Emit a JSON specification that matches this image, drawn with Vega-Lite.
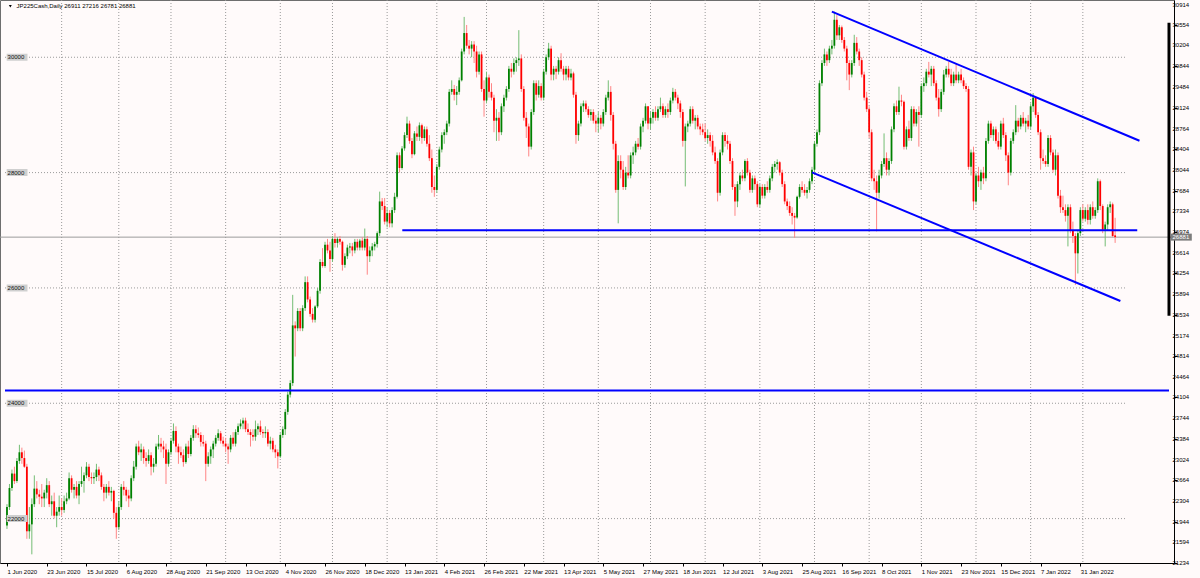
{
"$schema": "https://vega.github.io/schema/vega-lite/v6.json",
"width": 1174, "height": 563,
"autosize": {"type": "none"},
"padding": {"left": 0, "top": 0, "right": 26, "bottom": 15},
"background": "#fffafa",
"config": {
  "view": {"stroke": "#6e6e6e", "strokeWidth": 1},
  "axis": {"labelFont": "Liberation Sans", "labelFontSize": 6, "labelColor": "#000000", "domainColor": "#000000", "tickColor": "#000000", "grid": false},
  "text": {"font": "Liberation Sans"}
},
"layer": [
{
  "data": {"values": [{"n":23},{"n":46},{"n":67},{"n":89},{"n":111},{"n":132},{"n":154},{"n":174},{"n":194},{"n":217},{"n":239},{"n":260},{"n":282},{"n":304},{"n":326},{"n":348},{"n":369},{"n":391},{"n":413},{"n":434}]},
  "mark": {"type": "rule", "color": "#9a9a9a", "strokeDash": [1, 2], "strokeWidth": 1},
  "encoding": {"x": {"field": "n", "type": "quantitative", "title": null, "scale": {"domain": [0.202, 468.68], "nice": false, "zero": false}}}
},
{
  "data": {"values": [{"p":30000},{"p":28000},{"p":26000},{"p":24000},{"p":22000}]},
  "mark": {"type": "rule", "color": "#9a9a9a", "strokeDash": [1, 2], "strokeWidth": 1},
  "encoding": {
    "y": {"field": "p", "type": "quantitative", "title": null, "scale": {"domain": [21230, 30993], "nice": false, "zero": false}},
    "x": {"datum": 0.202}, "x2": {"datum": 451.5}
  }
},
{
  "data": {"values": [{"p": 26881}]},
  "mark": {"type": "rule", "color": "#9b9b9b", "strokeWidth": 1},
  "encoding": {"y": {"field": "p", "type": "quantitative", "title": null}}
},
{
  "data": {"values": [
{"d":"2020-06-01","o":21880,"h":22250,"l":21820,"c":22200},
{"d":"2020-06-02","o":22200,"h":22600,"l":22150,"c":22530},
{"d":"2020-06-03","o":22530,"h":22850,"l":22480,"c":22780},
{"d":"2020-06-04","o":22780,"h":22900,"l":22600,"c":22650},
{"d":"2020-06-05","o":22650,"h":23050,"l":22620,"c":23000},
{"d":"2020-06-08","o":23000,"h":23280,"l":22950,"c":23150},
{"d":"2020-06-09","o":23150,"h":23230,"l":22950,"c":23050},
{"d":"2020-06-10","o":23050,"h":23180,"l":22880,"c":22900},
{"d":"2020-06-11","o":22900,"h":22950,"l":21650,"c":21780},
{"d":"2020-06-12","o":21780,"h":22200,"l":21650,"c":21900},
{"d":"2020-06-15","o":21900,"h":22350,"l":21380,"c":22250},
{"d":"2020-06-16","o":22250,"h":22750,"l":22200,"c":22520},
{"d":"2020-06-17","o":22520,"h":22650,"l":22350,"c":22420},
{"d":"2020-06-18","o":22420,"h":22500,"l":22250,"c":22380},
{"d":"2020-06-19","o":22380,"h":22600,"l":22200,"c":22350},
{"d":"2020-06-22","o":22350,"h":22500,"l":22200,"c":22450},
{"d":"2020-06-23","o":22450,"h":22700,"l":22350,"c":22580},
{"d":"2020-06-24","o":22580,"h":22650,"l":22200,"c":22250},
{"d":"2020-06-25","o":22250,"h":22400,"l":22050,"c":22300},
{"d":"2020-06-26","o":22300,"h":22450,"l":22000,"c":22050},
{"d":"2020-06-29","o":22050,"h":22200,"l":21850,"c":22120},
{"d":"2020-06-30","o":22120,"h":22400,"l":22050,"c":22200},
{"d":"2020-07-01","o":22200,"h":22350,"l":22050,"c":22150},
{"d":"2020-07-02","o":22150,"h":22400,"l":22100,"c":22300},
{"d":"2020-07-03","o":22300,"h":22450,"l":22250,"c":22350},
{"d":"2020-07-06","o":22350,"h":22800,"l":22320,"c":22700},
{"d":"2020-07-07","o":22700,"h":22750,"l":22450,"c":22500},
{"d":"2020-07-08","o":22500,"h":22600,"l":22350,"c":22550},
{"d":"2020-07-09","o":22550,"h":22650,"l":22350,"c":22400},
{"d":"2020-07-10","o":22400,"h":22650,"l":22250,"c":22600},
{"d":"2020-07-13","o":22600,"h":22900,"l":22550,"c":22650},
{"d":"2020-07-14","o":22650,"h":22800,"l":22450,"c":22750},
{"d":"2020-07-15","o":22750,"h":22980,"l":22700,"c":22900},
{"d":"2020-07-16","o":22900,"h":22950,"l":22650,"c":22720},
{"d":"2020-07-17","o":22720,"h":22800,"l":22600,"c":22700},
{"d":"2020-07-20","o":22700,"h":22800,"l":22600,"c":22720},
{"d":"2020-07-21","o":22720,"h":22950,"l":22650,"c":22850},
{"d":"2020-07-22","o":22850,"h":22900,"l":22650,"c":22750},
{"d":"2020-07-23","o":22750,"h":22800,"l":22500,"c":22550},
{"d":"2020-07-24","o":22550,"h":22600,"l":22300,"c":22450},
{"d":"2020-07-27","o":22450,"h":22600,"l":22350,"c":22550},
{"d":"2020-07-28","o":22550,"h":22650,"l":22400,"c":22450},
{"d":"2020-07-29","o":22450,"h":22550,"l":22300,"c":22480},
{"d":"2020-07-30","o":22480,"h":22500,"l":22000,"c":22100},
{"d":"2020-07-31","o":22100,"h":22200,"l":21650,"c":21850},
{"d":"2020-08-03","o":21850,"h":22300,"l":21800,"c":22200},
{"d":"2020-08-04","o":22200,"h":22600,"l":22150,"c":22550},
{"d":"2020-08-05","o":22550,"h":22650,"l":22400,"c":22500},
{"d":"2020-08-06","o":22500,"h":22550,"l":22300,"c":22400},
{"d":"2020-08-07","o":22400,"h":22500,"l":22200,"c":22350},
{"d":"2020-08-10","o":22350,"h":22750,"l":22300,"c":22700},
{"d":"2020-08-11","o":22700,"h":23000,"l":22650,"c":22900},
{"d":"2020-08-12","o":22900,"h":23300,"l":22850,"c":23250},
{"d":"2020-08-13","o":23250,"h":23350,"l":23100,"c":23150},
{"d":"2020-08-14","o":23150,"h":23300,"l":23000,"c":23200},
{"d":"2020-08-17","o":23200,"h":23250,"l":22950,"c":23050},
{"d":"2020-08-18","o":23050,"h":23150,"l":22900,"c":23000},
{"d":"2020-08-19","o":23000,"h":23200,"l":22950,"c":23100},
{"d":"2020-08-20","o":23100,"h":23150,"l":22750,"c":22900},
{"d":"2020-08-21","o":22900,"h":23050,"l":22800,"c":22950},
{"d":"2020-08-24","o":22950,"h":23300,"l":22900,"c":23250},
{"d":"2020-08-25","o":23250,"h":23450,"l":23200,"c":23300},
{"d":"2020-08-26","o":23300,"h":23400,"l":23150,"c":23250},
{"d":"2020-08-27","o":23250,"h":23350,"l":23050,"c":23200},
{"d":"2020-08-28","o":23200,"h":23300,"l":22600,"c":22950},
{"d":"2020-08-31","o":22950,"h":23200,"l":22900,"c":23150},
{"d":"2020-09-01","o":23150,"h":23400,"l":23100,"c":23350},
{"d":"2020-09-02","o":23350,"h":23650,"l":23300,"c":23520},
{"d":"2020-09-03","o":23520,"h":23600,"l":23150,"c":23250},
{"d":"2020-09-04","o":23250,"h":23300,"l":22950,"c":23150},
{"d":"2020-09-07","o":23150,"h":23250,"l":23050,"c":23100},
{"d":"2020-09-08","o":23100,"h":23200,"l":22900,"c":22980},
{"d":"2020-09-09","o":22980,"h":23300,"l":22950,"c":23250},
{"d":"2020-09-10","o":23250,"h":23350,"l":23050,"c":23120},
{"d":"2020-09-11","o":23120,"h":23450,"l":23080,"c":23400},
{"d":"2020-09-14","o":23400,"h":23620,"l":23350,"c":23550},
{"d":"2020-09-15","o":23550,"h":23620,"l":23400,"c":23480},
{"d":"2020-09-16","o":23480,"h":23580,"l":23400,"c":23450},
{"d":"2020-09-17","o":23450,"h":23500,"l":23250,"c":23330},
{"d":"2020-09-18","o":23330,"h":23450,"l":23250,"c":23300},
{"d":"2020-09-21","o":23300,"h":23350,"l":22650,"c":22950},
{"d":"2020-09-22","o":22950,"h":23150,"l":22900,"c":23080},
{"d":"2020-09-23","o":23080,"h":23250,"l":22950,"c":23200},
{"d":"2020-09-24","o":23200,"h":23350,"l":23050,"c":23300},
{"d":"2020-09-25","o":23300,"h":23450,"l":23250,"c":23400},
{"d":"2020-09-28","o":23400,"h":23550,"l":23350,"c":23480},
{"d":"2020-09-29","o":23480,"h":23520,"l":23300,"c":23350},
{"d":"2020-09-30","o":23350,"h":23420,"l":23250,"c":23300},
{"d":"2020-10-01","o":23300,"h":23400,"l":23150,"c":23250},
{"d":"2020-10-02","o":23250,"h":23300,"l":22950,"c":23200},
{"d":"2020-10-05","o":23200,"h":23450,"l":23150,"c":23400},
{"d":"2020-10-06","o":23400,"h":23500,"l":23250,"c":23300},
{"d":"2020-10-07","o":23300,"h":23550,"l":23250,"c":23500},
{"d":"2020-10-08","o":23500,"h":23650,"l":23450,"c":23600},
{"d":"2020-10-09","o":23600,"h":23720,"l":23550,"c":23650},
{"d":"2020-10-12","o":23650,"h":23750,"l":23550,"c":23700},
{"d":"2020-10-13","o":23700,"h":23750,"l":23500,"c":23550},
{"d":"2020-10-14","o":23550,"h":23650,"l":23450,"c":23500},
{"d":"2020-10-15","o":23500,"h":23550,"l":23250,"c":23450},
{"d":"2020-10-16","o":23450,"h":23550,"l":23350,"c":23420},
{"d":"2020-10-19","o":23420,"h":23700,"l":23350,"c":23550},
{"d":"2020-10-20","o":23550,"h":23650,"l":23450,"c":23600},
{"d":"2020-10-21","o":23600,"h":23700,"l":23450,"c":23500},
{"d":"2020-10-22","o":23500,"h":23550,"l":23400,"c":23480},
{"d":"2020-10-23","o":23480,"h":23600,"l":23400,"c":23500},
{"d":"2020-10-26","o":23500,"h":23550,"l":23250,"c":23300},
{"d":"2020-10-27","o":23300,"h":23420,"l":23200,"c":23350},
{"d":"2020-10-28","o":23350,"h":23400,"l":23150,"c":23200},
{"d":"2020-10-29","o":23200,"h":23280,"l":23050,"c":23150},
{"d":"2020-10-30","o":23150,"h":23200,"l":22870,"c":23080},
{"d":"2020-11-02","o":23080,"h":23480,"l":23050,"c":23450},
{"d":"2020-11-03","o":23450,"h":23600,"l":23400,"c":23550},
{"d":"2020-11-04","o":23550,"h":23900,"l":23450,"c":23850},
{"d":"2020-11-05","o":23850,"h":24200,"l":23800,"c":24150},
{"d":"2020-11-06","o":24150,"h":24400,"l":24100,"c":24350},
{"d":"2020-11-09","o":24350,"h":25880,"l":24300,"c":25350},
{"d":"2020-11-10","o":25350,"h":25420,"l":24810,"c":25300},
{"d":"2020-11-11","o":25300,"h":25650,"l":25250,"c":25600},
{"d":"2020-11-12","o":25600,"h":25650,"l":25250,"c":25300},
{"d":"2020-11-13","o":25300,"h":25700,"l":25250,"c":25650},
{"d":"2020-11-16","o":25650,"h":26200,"l":25600,"c":26100},
{"d":"2020-11-17","o":26100,"h":26200,"l":25750,"c":25800},
{"d":"2020-11-18","o":25800,"h":25850,"l":25500,"c":25550},
{"d":"2020-11-19","o":25550,"h":25650,"l":25400,"c":25450},
{"d":"2020-11-20","o":25450,"h":25700,"l":25400,"c":25680},
{"d":"2020-11-23","o":25680,"h":26000,"l":25650,"c":25950},
{"d":"2020-11-24","o":25950,"h":26500,"l":25900,"c":26450},
{"d":"2020-11-25","o":26450,"h":26690,"l":26350,"c":26380},
{"d":"2020-11-26","o":26380,"h":26800,"l":26350,"c":26750},
{"d":"2020-11-27","o":26750,"h":26850,"l":26600,"c":26650},
{"d":"2020-11-30","o":26650,"h":26800,"l":26280,"c":26500},
{"d":"2020-12-01","o":26500,"h":26900,"l":26450,"c":26850},
{"d":"2020-12-02","o":26850,"h":26950,"l":26700,"c":26780},
{"d":"2020-12-03","o":26780,"h":26880,"l":26700,"c":26850},
{"d":"2020-12-04","o":26850,"h":26900,"l":26750,"c":26800},
{"d":"2020-12-07","o":26800,"h":26820,"l":26300,"c":26400},
{"d":"2020-12-08","o":26400,"h":26600,"l":26350,"c":26550},
{"d":"2020-12-09","o":26550,"h":26750,"l":26500,"c":26700},
{"d":"2020-12-10","o":26700,"h":26780,"l":26600,"c":26720},
{"d":"2020-12-11","o":26720,"h":26780,"l":26550,"c":26650},
{"d":"2020-12-14","o":26650,"h":26850,"l":26600,"c":26800},
{"d":"2020-12-15","o":26800,"h":26850,"l":26650,"c":26700},
{"d":"2020-12-16","o":26700,"h":26850,"l":26650,"c":26820},
{"d":"2020-12-17","o":26820,"h":26880,"l":26650,"c":26700},
{"d":"2020-12-18","o":26700,"h":27030,"l":26650,"c":26850},
{"d":"2020-12-21","o":26850,"h":26900,"l":26230,"c":26550},
{"d":"2020-12-22","o":26550,"h":26720,"l":26450,"c":26650},
{"d":"2020-12-23","o":26650,"h":26780,"l":26550,"c":26720},
{"d":"2020-12-24","o":26720,"h":26800,"l":26650,"c":26760},
{"d":"2020-12-28","o":26760,"h":26980,"l":26700,"c":26950},
{"d":"2020-12-29","o":26950,"h":27670,"l":26900,"c":27500},
{"d":"2020-12-30","o":27500,"h":27560,"l":27350,"c":27420},
{"d":"2020-12-31","o":27420,"h":27560,"l":27100,"c":27150},
{"d":"2021-01-04","o":27150,"h":27400,"l":27050,"c":27300},
{"d":"2021-01-05","o":27300,"h":27350,"l":27050,"c":27120},
{"d":"2021-01-06","o":27120,"h":27400,"l":27050,"c":27350},
{"d":"2021-01-07","o":27350,"h":27650,"l":27300,"c":27580},
{"d":"2021-01-08","o":27580,"h":28350,"l":27550,"c":28300},
{"d":"2021-01-11","o":28300,"h":28350,"l":28000,"c":28080},
{"d":"2021-01-12","o":28080,"h":28460,"l":28050,"c":28420},
{"d":"2021-01-13","o":28420,"h":28700,"l":28380,"c":28650},
{"d":"2021-01-14","o":28650,"h":28970,"l":28600,"c":28850},
{"d":"2021-01-15","o":28850,"h":28900,"l":28500,"c":28550},
{"d":"2021-01-18","o":28550,"h":28600,"l":28250,"c":28320},
{"d":"2021-01-19","o":28320,"h":28720,"l":28300,"c":28680},
{"d":"2021-01-20","o":28680,"h":28800,"l":28550,"c":28620},
{"d":"2021-01-21","o":28620,"h":28870,"l":28550,"c":28820},
{"d":"2021-01-22","o":28820,"h":28850,"l":28500,"c":28600},
{"d":"2021-01-25","o":28600,"h":28800,"l":28550,"c":28750},
{"d":"2021-01-26","o":28750,"h":28800,"l":28450,"c":28500},
{"d":"2021-01-27","o":28500,"h":28650,"l":28200,"c":28250},
{"d":"2021-01-28","o":28250,"h":28400,"l":27650,"c":27750},
{"d":"2021-01-29","o":27750,"h":27950,"l":27580,"c":27700},
{"d":"2021-02-01","o":27700,"h":28150,"l":27650,"c":28100},
{"d":"2021-02-02","o":28100,"h":28450,"l":28050,"c":28400},
{"d":"2021-02-03","o":28400,"h":28700,"l":28350,"c":28650},
{"d":"2021-02-04","o":28650,"h":28750,"l":28500,"c":28700},
{"d":"2021-02-05","o":28700,"h":28900,"l":28650,"c":28850},
{"d":"2021-02-08","o":28850,"h":29450,"l":28800,"c":29400},
{"d":"2021-02-09","o":29400,"h":29600,"l":29350,"c":29450},
{"d":"2021-02-10","o":29450,"h":29520,"l":29250,"c":29350},
{"d":"2021-02-11","o":29350,"h":29500,"l":29170,"c":29400},
{"d":"2021-02-12","o":29400,"h":29650,"l":29350,"c":29600},
{"d":"2021-02-15","o":29600,"h":30150,"l":29580,"c":30100},
{"d":"2021-02-16","o":30100,"h":30700,"l":30050,"c":30420},
{"d":"2021-02-17","o":30420,"h":30560,"l":30150,"c":30200},
{"d":"2021-02-18","o":30200,"h":30300,"l":30050,"c":30150},
{"d":"2021-02-19","o":30150,"h":30280,"l":30000,"c":30220},
{"d":"2021-02-22","o":30220,"h":30280,"l":29900,"c":30100},
{"d":"2021-02-23","o":30100,"h":30200,"l":29650,"c":29750},
{"d":"2021-02-24","o":29750,"h":30100,"l":29700,"c":30050},
{"d":"2021-02-25","o":30050,"h":30100,"l":29400,"c":29450},
{"d":"2021-02-26","o":29450,"h":29600,"l":28970,"c":29250},
{"d":"2021-03-01","o":29250,"h":29750,"l":29200,"c":29650},
{"d":"2021-03-02","o":29650,"h":29700,"l":29300,"c":29400},
{"d":"2021-03-03","o":29400,"h":29550,"l":29250,"c":29300},
{"d":"2021-03-04","o":29300,"h":29350,"l":28700,"c":28900},
{"d":"2021-03-05","o":28900,"h":29100,"l":28550,"c":28950},
{"d":"2021-03-08","o":28950,"h":29050,"l":28550,"c":28700},
{"d":"2021-03-09","o":28700,"h":29200,"l":28650,"c":29150},
{"d":"2021-03-10","o":29150,"h":29350,"l":29050,"c":29300},
{"d":"2021-03-11","o":29300,"h":29500,"l":29250,"c":29450},
{"d":"2021-03-12","o":29450,"h":29850,"l":29400,"c":29800},
{"d":"2021-03-15","o":29800,"h":29900,"l":29650,"c":29750},
{"d":"2021-03-16","o":29750,"h":29980,"l":29700,"c":29900},
{"d":"2021-03-17","o":29900,"h":30000,"l":29750,"c":29950},
{"d":"2021-03-18","o":29950,"h":30470,"l":29850,"c":29980},
{"d":"2021-03-19","o":29980,"h":30050,"l":29400,"c":29450},
{"d":"2021-03-22","o":29450,"h":29500,"l":28900,"c":28950},
{"d":"2021-03-23","o":28950,"h":29050,"l":28600,"c":28800},
{"d":"2021-03-24","o":28800,"h":28850,"l":28280,"c":28450},
{"d":"2021-03-25","o":28450,"h":29100,"l":28400,"c":29050},
{"d":"2021-03-26","o":29050,"h":29600,"l":29000,"c":29550},
{"d":"2021-03-29","o":29550,"h":29600,"l":29250,"c":29350},
{"d":"2021-03-30","o":29350,"h":29600,"l":29300,"c":29500},
{"d":"2021-03-31","o":29500,"h":29550,"l":29250,"c":29300},
{"d":"2021-04-01","o":29300,"h":29800,"l":29250,"c":29750},
{"d":"2021-04-02","o":29750,"h":30050,"l":29700,"c":30000},
{"d":"2021-04-05","o":30000,"h":30250,"l":29950,"c":30150},
{"d":"2021-04-06","o":30150,"h":30200,"l":29600,"c":29700},
{"d":"2021-04-07","o":29700,"h":29850,"l":29600,"c":29800},
{"d":"2021-04-08","o":29800,"h":29850,"l":29620,"c":29750},
{"d":"2021-04-09","o":29750,"h":30000,"l":29700,"c":29950},
{"d":"2021-04-12","o":29950,"h":30070,"l":29750,"c":29800},
{"d":"2021-04-13","o":29800,"h":29850,"l":29600,"c":29700},
{"d":"2021-04-14","o":29700,"h":29850,"l":29600,"c":29800},
{"d":"2021-04-15","o":29800,"h":29850,"l":29600,"c":29650},
{"d":"2021-04-16","o":29650,"h":29800,"l":29600,"c":29720},
{"d":"2021-04-19","o":29720,"h":29750,"l":29300,"c":29350},
{"d":"2021-04-20","o":29350,"h":29400,"l":28500,"c":28650},
{"d":"2021-04-21","o":28650,"h":28900,"l":28550,"c":28850},
{"d":"2021-04-22","o":28850,"h":29200,"l":28800,"c":29150},
{"d":"2021-04-23","o":29150,"h":29250,"l":29050,"c":29200},
{"d":"2021-04-26","o":29200,"h":29250,"l":29050,"c":29100},
{"d":"2021-04-27","o":29100,"h":29150,"l":28950,"c":29000},
{"d":"2021-04-28","o":29000,"h":29100,"l":28900,"c":29050},
{"d":"2021-04-29","o":29050,"h":29100,"l":28850,"c":28900},
{"d":"2021-04-30","o":28900,"h":29000,"l":28700,"c":28850},
{"d":"2021-05-03","o":28850,"h":29050,"l":28700,"c":28950},
{"d":"2021-05-04","o":28950,"h":29000,"l":28750,"c":28850},
{"d":"2021-05-05","o":28850,"h":29100,"l":28800,"c":29050},
{"d":"2021-05-06","o":29050,"h":29350,"l":29000,"c":29300},
{"d":"2021-05-07","o":29300,"h":29600,"l":29250,"c":29400},
{"d":"2021-05-10","o":29400,"h":29500,"l":28900,"c":29000},
{"d":"2021-05-11","o":29000,"h":29050,"l":28400,"c":28500},
{"d":"2021-05-12","o":28500,"h":28550,"l":27650,"c":27700},
{"d":"2021-05-13","o":27700,"h":28300,"l":27120,"c":28200},
{"d":"2021-05-14","o":28200,"h":28300,"l":27900,"c":28050},
{"d":"2021-05-17","o":28050,"h":28200,"l":27700,"c":27750},
{"d":"2021-05-18","o":27750,"h":28100,"l":27700,"c":28000},
{"d":"2021-05-19","o":28000,"h":28300,"l":27900,"c":27950},
{"d":"2021-05-20","o":27950,"h":28350,"l":27900,"c":28300},
{"d":"2021-05-21","o":28300,"h":28450,"l":28150,"c":28350},
{"d":"2021-05-24","o":28350,"h":28550,"l":28300,"c":28500},
{"d":"2021-05-25","o":28500,"h":28600,"l":28400,"c":28450},
{"d":"2021-05-26","o":28450,"h":28850,"l":28400,"c":28800},
{"d":"2021-05-27","o":28800,"h":28950,"l":28700,"c":28900},
{"d":"2021-05-28","o":28900,"h":29200,"l":28850,"c":29150},
{"d":"2021-05-31","o":29150,"h":29150,"l":28750,"c":28850},
{"d":"2021-06-01","o":28850,"h":29050,"l":28750,"c":28950},
{"d":"2021-06-02","o":28950,"h":29100,"l":28850,"c":29050},
{"d":"2021-06-03","o":29050,"h":29150,"l":28900,"c":28950},
{"d":"2021-06-04","o":28950,"h":29150,"l":28900,"c":29100},
{"d":"2021-06-07","o":29100,"h":29300,"l":29050,"c":29150},
{"d":"2021-06-08","o":29150,"h":29200,"l":28950,"c":29000},
{"d":"2021-06-09","o":29000,"h":29150,"l":28950,"c":29100},
{"d":"2021-06-10","o":29100,"h":29200,"l":28950,"c":29050},
{"d":"2021-06-11","o":29050,"h":29300,"l":29000,"c":29250},
{"d":"2021-06-14","o":29250,"h":29470,"l":29200,"c":29400},
{"d":"2021-06-15","o":29400,"h":29450,"l":29250,"c":29300},
{"d":"2021-06-16","o":29300,"h":29350,"l":29100,"c":29200},
{"d":"2021-06-17","o":29200,"h":29250,"l":28950,"c":29050},
{"d":"2021-06-18","o":29050,"h":29100,"l":28450,"c":28550},
{"d":"2021-06-21","o":28550,"h":28850,"l":27760,"c":28800},
{"d":"2021-06-22","o":28800,"h":28900,"l":28700,"c":28850},
{"d":"2021-06-23","o":28850,"h":29150,"l":28800,"c":29100},
{"d":"2021-06-24","o":29100,"h":29150,"l":28850,"c":28900},
{"d":"2021-06-25","o":28900,"h":29000,"l":28750,"c":28950},
{"d":"2021-06-28","o":28950,"h":29000,"l":28750,"c":28800},
{"d":"2021-06-29","o":28800,"h":28850,"l":28650,"c":28750},
{"d":"2021-06-30","o":28750,"h":28850,"l":28650,"c":28700},
{"d":"2021-07-01","o":28700,"h":28850,"l":28550,"c":28600},
{"d":"2021-07-02","o":28600,"h":28750,"l":28500,"c":28650},
{"d":"2021-07-05","o":28650,"h":28700,"l":28450,"c":28550},
{"d":"2021-07-06","o":28550,"h":28650,"l":28300,"c":28350},
{"d":"2021-07-07","o":28350,"h":28450,"l":28150,"c":28200},
{"d":"2021-07-08","o":28200,"h":28250,"l":27500,"c":27650},
{"d":"2021-07-09","o":27650,"h":28400,"l":27600,"c":28350},
{"d":"2021-07-12","o":28350,"h":28700,"l":28300,"c":28650},
{"d":"2021-07-13","o":28650,"h":28700,"l":28450,"c":28550},
{"d":"2021-07-14","o":28550,"h":28650,"l":28400,"c":28500},
{"d":"2021-07-15","o":28500,"h":28550,"l":28150,"c":28200},
{"d":"2021-07-16","o":28200,"h":28250,"l":27700,"c":27750},
{"d":"2021-07-19","o":27750,"h":27800,"l":27250,"c":27500},
{"d":"2021-07-20","o":27500,"h":27850,"l":27400,"c":27800},
{"d":"2021-07-21","o":27800,"h":28000,"l":27700,"c":27950},
{"d":"2021-07-22","o":27950,"h":28050,"l":27850,"c":27900},
{"d":"2021-07-23","o":27900,"h":28230,"l":27850,"c":28200},
{"d":"2021-07-26","o":28200,"h":28250,"l":27950,"c":28000},
{"d":"2021-07-27","o":28000,"h":28050,"l":27650,"c":27700},
{"d":"2021-07-28","o":27700,"h":27950,"l":27650,"c":27900},
{"d":"2021-07-29","o":27900,"h":27950,"l":27700,"c":27800},
{"d":"2021-07-30","o":27800,"h":27850,"l":27400,"c":27450},
{"d":"2021-08-02","o":27450,"h":27800,"l":27400,"c":27750},
{"d":"2021-08-03","o":27750,"h":27800,"l":27550,"c":27600},
{"d":"2021-08-04","o":27600,"h":27800,"l":27550,"c":27750},
{"d":"2021-08-05","o":27750,"h":27850,"l":27650,"c":27700},
{"d":"2021-08-06","o":27700,"h":27950,"l":27650,"c":27900},
{"d":"2021-08-09","o":27900,"h":28150,"l":27850,"c":28100},
{"d":"2021-08-10","o":28100,"h":28200,"l":28000,"c":28150},
{"d":"2021-08-11","o":28150,"h":28230,"l":28050,"c":28180},
{"d":"2021-08-12","o":28180,"h":28200,"l":27950,"c":28000},
{"d":"2021-08-13","o":28000,"h":28050,"l":27750,"c":27800},
{"d":"2021-08-16","o":27800,"h":27850,"l":27450,"c":27500},
{"d":"2021-08-17","o":27500,"h":27550,"l":27350,"c":27420},
{"d":"2021-08-18","o":27420,"h":27500,"l":27250,"c":27300},
{"d":"2021-08-19","o":27300,"h":27400,"l":27100,"c":27250},
{"d":"2021-08-20","o":27250,"h":27300,"l":26870,"c":27220},
{"d":"2021-08-23","o":27220,"h":27600,"l":27200,"c":27580},
{"d":"2021-08-24","o":27580,"h":27800,"l":27550,"c":27750},
{"d":"2021-08-25","o":27750,"h":27850,"l":27650,"c":27700},
{"d":"2021-08-26","o":27700,"h":27800,"l":27600,"c":27650},
{"d":"2021-08-27","o":27650,"h":27750,"l":27550,"c":27700},
{"d":"2021-08-30","o":27700,"h":27900,"l":27650,"c":27850},
{"d":"2021-08-31","o":27850,"h":28100,"l":27800,"c":28050},
{"d":"2021-09-01","o":28050,"h":28550,"l":28000,"c":28500},
{"d":"2021-09-02","o":28500,"h":28750,"l":28450,"c":28700},
{"d":"2021-09-03","o":28700,"h":29600,"l":28650,"c":29550},
{"d":"2021-09-06","o":29550,"h":29950,"l":29500,"c":29900},
{"d":"2021-09-07","o":29900,"h":30150,"l":29850,"c":30050},
{"d":"2021-09-08","o":30050,"h":30100,"l":29850,"c":29950},
{"d":"2021-09-09","o":29950,"h":30200,"l":29900,"c":30150},
{"d":"2021-09-10","o":30150,"h":30300,"l":30050,"c":30200},
{"d":"2021-09-13","o":30200,"h":30790,"l":30150,"c":30650},
{"d":"2021-09-14","o":30650,"h":30730,"l":30300,"c":30380},
{"d":"2021-09-15","o":30380,"h":30560,"l":30300,"c":30520},
{"d":"2021-09-16","o":30520,"h":30550,"l":30250,"c":30300},
{"d":"2021-09-17","o":30300,"h":30350,"l":30100,"c":30150},
{"d":"2021-09-20","o":30150,"h":30200,"l":29600,"c":29900},
{"d":"2021-09-21","o":29900,"h":29950,"l":29430,"c":29700},
{"d":"2021-09-22","o":29700,"h":29950,"l":29650,"c":29900},
{"d":"2021-09-23","o":29900,"h":30390,"l":29850,"c":30250},
{"d":"2021-09-24","o":30250,"h":30350,"l":30050,"c":30100},
{"d":"2021-09-27","o":30100,"h":30150,"l":29850,"c":29950},
{"d":"2021-09-28","o":29950,"h":30000,"l":29650,"c":29700},
{"d":"2021-09-29","o":29700,"h":29750,"l":29250,"c":29300},
{"d":"2021-09-30","o":29300,"h":29400,"l":29050,"c":29100},
{"d":"2021-10-01","o":29100,"h":29150,"l":28600,"c":28700},
{"d":"2021-10-04","o":28700,"h":28750,"l":27850,"c":27900},
{"d":"2021-10-05","o":27900,"h":28050,"l":27700,"c":27850},
{"d":"2021-10-06","o":27850,"h":27950,"l":26980,"c":27650},
{"d":"2021-10-07","o":27650,"h":28050,"l":27550,"c":27950},
{"d":"2021-10-08","o":27950,"h":28200,"l":27900,"c":28150},
{"d":"2021-10-11","o":28150,"h":28680,"l":28100,"c":28250},
{"d":"2021-10-12","o":28250,"h":28350,"l":27950,"c":28050},
{"d":"2021-10-13","o":28050,"h":28250,"l":27950,"c":28200},
{"d":"2021-10-14","o":28200,"h":28800,"l":28150,"c":28750},
{"d":"2021-10-15","o":28750,"h":29200,"l":28700,"c":29150},
{"d":"2021-10-18","o":29150,"h":29250,"l":29000,"c":29050},
{"d":"2021-10-19","o":29050,"h":29490,"l":29000,"c":29250},
{"d":"2021-10-20","o":29250,"h":29350,"l":29150,"c":29230},
{"d":"2021-10-21","o":29230,"h":29250,"l":28400,"c":28450},
{"d":"2021-10-22","o":28450,"h":28800,"l":28400,"c":28750},
{"d":"2021-10-25","o":28750,"h":28900,"l":28550,"c":28600},
{"d":"2021-10-26","o":28600,"h":29150,"l":28550,"c":29100},
{"d":"2021-10-27","o":29100,"h":29150,"l":28800,"c":28850},
{"d":"2021-10-28","o":28850,"h":29100,"l":28800,"c":29050},
{"d":"2021-10-29","o":29050,"h":29150,"l":28450,"c":29000},
{"d":"2021-11-01","o":29000,"h":29550,"l":28950,"c":29500},
{"d":"2021-11-02","o":29500,"h":29650,"l":29400,"c":29550},
{"d":"2021-11-03","o":29550,"h":29800,"l":29500,"c":29750},
{"d":"2021-11-04","o":29750,"h":29920,"l":29650,"c":29700},
{"d":"2021-11-05","o":29700,"h":29850,"l":29500,"c":29800},
{"d":"2021-11-08","o":29800,"h":29850,"l":29500,"c":29550},
{"d":"2021-11-09","o":29550,"h":29600,"l":29250,"c":29300},
{"d":"2021-11-10","o":29300,"h":29450,"l":28970,"c":29100},
{"d":"2021-11-11","o":29100,"h":29450,"l":29050,"c":29400},
{"d":"2021-11-12","o":29400,"h":29780,"l":29350,"c":29700},
{"d":"2021-11-15","o":29700,"h":29850,"l":29650,"c":29800},
{"d":"2021-11-16","o":29800,"h":29920,"l":29650,"c":29700},
{"d":"2021-11-17","o":29700,"h":29800,"l":29500,"c":29550},
{"d":"2021-11-18","o":29550,"h":29750,"l":29500,"c":29700},
{"d":"2021-11-19","o":29700,"h":29890,"l":29550,"c":29600},
{"d":"2021-11-22","o":29600,"h":29750,"l":29550,"c":29700},
{"d":"2021-11-23","o":29700,"h":29800,"l":29550,"c":29600},
{"d":"2021-11-24","o":29600,"h":29650,"l":29450,"c":29500},
{"d":"2021-11-25","o":29500,"h":29550,"l":29400,"c":29450},
{"d":"2021-11-26","o":29450,"h":29500,"l":28050,"c":28100},
{"d":"2021-11-29","o":28100,"h":28400,"l":27950,"c":28350},
{"d":"2021-11-30","o":28350,"h":28450,"l":27350,"c":27500},
{"d":"2021-12-01","o":27500,"h":28000,"l":27450,"c":27950},
{"d":"2021-12-02","o":27950,"h":28100,"l":27750,"c":27850},
{"d":"2021-12-03","o":27850,"h":28050,"l":27700,"c":28000},
{"d":"2021-12-06","o":28000,"h":28100,"l":27800,"c":27900},
{"d":"2021-12-07","o":27900,"h":28600,"l":27850,"c":28550},
{"d":"2021-12-08","o":28550,"h":28900,"l":28500,"c":28850},
{"d":"2021-12-09","o":28850,"h":28900,"l":28600,"c":28650},
{"d":"2021-12-10","o":28650,"h":28800,"l":28550,"c":28750},
{"d":"2021-12-13","o":28750,"h":28800,"l":28500,"c":28550},
{"d":"2021-12-14","o":28550,"h":28700,"l":28400,"c":28450},
{"d":"2021-12-15","o":28450,"h":28900,"l":28400,"c":28850},
{"d":"2021-12-16","o":28850,"h":28950,"l":28600,"c":28650},
{"d":"2021-12-17","o":28650,"h":28700,"l":28200,"c":28300},
{"d":"2021-12-20","o":28300,"h":28350,"l":27780,"c":28000},
{"d":"2021-12-21","o":28000,"h":28600,"l":27950,"c":28550},
{"d":"2021-12-22","o":28550,"h":28750,"l":28500,"c":28700},
{"d":"2021-12-23","o":28700,"h":29170,"l":28650,"c":28900},
{"d":"2021-12-27","o":28900,"h":28950,"l":28700,"c":28800},
{"d":"2021-12-28","o":28800,"h":29000,"l":28750,"c":28950},
{"d":"2021-12-29","o":28950,"h":29050,"l":28800,"c":28850},
{"d":"2021-12-30","o":28850,"h":28950,"l":28700,"c":28900},
{"d":"2021-12-31","o":28900,"h":29000,"l":28750,"c":28800},
{"d":"2022-01-03","o":28800,"h":29200,"l":28750,"c":29150},
{"d":"2022-01-04","o":29150,"h":29380,"l":29050,"c":29300},
{"d":"2022-01-05","o":29300,"h":29320,"l":28950,"c":29000},
{"d":"2022-01-06","o":29000,"h":29050,"l":28650,"c":28700},
{"d":"2022-01-07","o":28700,"h":28750,"l":28050,"c":28250},
{"d":"2022-01-10","o":28250,"h":28400,"l":28150,"c":28200},
{"d":"2022-01-11","o":28200,"h":28300,"l":28100,"c":28150},
{"d":"2022-01-12","o":28150,"h":28650,"l":28100,"c":28600},
{"d":"2022-01-13","o":28600,"h":28650,"l":28300,"c":28350},
{"d":"2022-01-14","o":28350,"h":28400,"l":28000,"c":28050},
{"d":"2022-01-17","o":28050,"h":28400,"l":27950,"c":28300},
{"d":"2022-01-18","o":28300,"h":28350,"l":27550,"c":27600},
{"d":"2022-01-19","o":27600,"h":27700,"l":27300,"c":27400},
{"d":"2022-01-20","o":27400,"h":27600,"l":27300,"c":27350},
{"d":"2022-01-21","o":27350,"h":27450,"l":27150,"c":27250},
{"d":"2022-01-24","o":27250,"h":27450,"l":26720,"c":27400},
{"d":"2022-01-25","o":27400,"h":27450,"l":26950,"c":27000},
{"d":"2022-01-26","o":27000,"h":27150,"l":26780,"c":26900},
{"d":"2022-01-27","o":26900,"h":26950,"l":26050,"c":26600},
{"d":"2022-01-28","o":26600,"h":27000,"l":26250,"c":26950},
{"d":"2022-01-31","o":26950,"h":27400,"l":26900,"c":27350},
{"d":"2022-02-01","o":27350,"h":27450,"l":27150,"c":27200},
{"d":"2022-02-02","o":27200,"h":27400,"l":27150,"c":27350},
{"d":"2022-02-03","o":27350,"h":27450,"l":27100,"c":27180},
{"d":"2022-02-04","o":27180,"h":27450,"l":27100,"c":27400},
{"d":"2022-02-07","o":27400,"h":27500,"l":27200,"c":27250},
{"d":"2022-02-08","o":27250,"h":27400,"l":27200,"c":27350},
{"d":"2022-02-09","o":27350,"h":27900,"l":27300,"c":27850},
{"d":"2022-02-10","o":27850,"h":27880,"l":27350,"c":27420},
{"d":"2022-02-11","o":27420,"h":27450,"l":26950,"c":27010},
{"d":"2022-02-14","o":27010,"h":27150,"l":26720,"c":27100},
{"d":"2022-02-15","o":27100,"h":27450,"l":27000,"c":27400},
{"d":"2022-02-16","o":27400,"h":27500,"l":27300,"c":27450},
{"d":"2022-02-17","o":27450,"h":27480,"l":26880,"c":26900},
{"d":"2022-02-18","o":26911,"h":27216,"l":26781,"c":26881}
  ]},
  "transform": [{"window": [{"op": "row_number", "as": "n"}], "sort": [{"field": "d", "order": "ascending"}]}],
  "layer": [
    {
      "mark": {"type": "rule", "strokeWidth": 1},
      "encoding": {
        "x": {"field": "n", "type": "quantitative", "title": null,
              "scale": {"domain": [0.202, 468.68], "nice": false, "zero": false},
              "axis": {"orient": "bottom", "title": null, "grid": false,
                       "values": [1,17,33,49,65,81,97,113,129,145,161,177,193,209,225,241,257,273,289,305,321,337,353,369,385,401,417,433],
                       "labelExpr": "['1 Jun 2020','23 Jun 2020','15 Jul 2020','6 Aug 2020','28 Aug 2020','21 Sep 2020','13 Oct 2020','4 Nov 2020','26 Nov 2020','18 Dec 2020','13 Jan 2021','4 Feb 2021','26 Feb 2021','22 Mar 2021','13 Apr 2021','5 May 2021','27 May 2021','18 Jun 2021','12 Jul 2021','3 Aug 2021','25 Aug 2021','16 Sep 2021','8 Oct 2021','1 Nov 2021','23 Nov 2021','15 Dec 2021','7 Jan 2022','31 Jan 2022'][round((datum.value - 1) / 16)]",
                       "tickSize": 3, "labelAlign": "left", "labelBaseline": "top", "labelPadding": 2,
                       "labelOverlap": false, "labelFlush": false, "labelBound": false}},
        "y": {"field": "l", "type": "quantitative", "title": null,
              "scale": {"domain": [21230, 30993], "nice": false, "zero": false},
              "axis": {"orient": "right", "title": null, "grid": false, "labels": false,
                       "values": [30914,30554,30204,29844,29484,29124,28764,28404,28044,27684,27334,26974,26614,26254,25894,25534,25174,24814,24464,24104,23744,23384,23024,22664,22304,21944,21594,21234],
                       "tickSize": 3}},
        "y2": {"field": "h"},
        "color": {"condition": {"test": "datum.c >= datum.o", "value": "#74bd74"}, "value": "#ff8585"}
      }
    },
    {
      "mark": {"type": "bar", "size": 1.8},
      "encoding": {
        "x": {"field": "n", "type": "quantitative", "title": null},
        "y": {"field": "o", "type": "quantitative", "title": null},
        "y2": {"field": "c"},
        "color": {"condition": {"test": "datum.c >= datum.o", "value": "#008000"}, "value": "#ff0000"}
      }
    }
  ]
},
{
  "data": {"values": [
    {"n1": 0.202, "p1": 24223, "n2": 468.68, "p2": 24223},
    {"n1": 160.1, "p1": 27000, "n2": 455.9, "p2": 27000},
    {"n1": 333.0, "p1": 30791, "n2": 456.8, "p2": 28553},
    {"n1": 325.0, "p1": 28005, "n2": 449.1, "p2": 25774}
  ]},
  "mark": {"type": "rule", "color": "#0000ff", "strokeWidth": 2},
  "encoding": {
    "x": {"field": "n1", "type": "quantitative", "title": null},
    "x2": {"field": "n2"},
    "y": {"field": "p1", "type": "quantitative", "title": null},
    "y2": {"field": "p2"}
  }
},
{
  "data": {"values": [{"n": 468.68, "p1": 30599, "p2": 25519}]},
  "mark": {"type": "rule", "color": "#000000", "strokeWidth": 3},
  "encoding": {
    "x": {"field": "n", "type": "quantitative", "title": null},
    "y": {"field": "p1", "type": "quantitative", "title": null},
    "y2": {"field": "p2"}
  }
},
{
  "data": {"values": [{"v":30914},{"v":30554},{"v":30204},{"v":29844},{"v":29484},{"v":29124},{"v":28764},{"v":28404},{"v":28044},{"v":27684},{"v":27334},{"v":26974},{"v":26614},{"v":26254},{"v":25894},{"v":25534},{"v":25174},{"v":24814},{"v":24464},{"v":24104},{"v":23744},{"v":23384},{"v":23024},{"v":22664},{"v":22304},{"v":21944},{"v":21594},{"v":21234}]},
  "mark": {"type": "text", "align": "left", "baseline": "middle", "fontSize": 6, "color": "#000000", "font": "Liberation Sans", "dx": 3.5},
  "encoding": {
    "x": {"datum": 468.68},
    "y": {"field": "v", "type": "quantitative", "title": null},
    "text": {"field": "v", "type": "quantitative", "format": "d"}
  }
},
{
  "data": {"values": [{"p":30000,"t":"30000"},{"p":28000,"t":"28000"},{"p":26000,"t":"26000"},{"p":24000,"t":"24000"},{"p":22000,"t":"22000"}]},
  "layer": [
    {
      "mark": {"type": "rect", "color": "#cfcfcf", "yOffset": -3.5, "y2Offset": 3.5},
      "encoding": {
        "x": {"datum": 0.88}, "x2": {"datum": 9.26},
        "y": {"field": "p", "type": "quantitative", "title": null},
        "y2": {"field": "p"}
      }
    },
    {
      "mark": {"type": "text", "align": "left", "baseline": "middle", "fontSize": 6, "color": "#111111", "font": "Liberation Sans"},
      "encoding": {
        "x": {"datum": 1.25},
        "y": {"field": "p", "type": "quantitative", "title": null},
        "text": {"field": "t"}
      }
    }
  ]
},
{
  "data": {"values": [{"p": 26881, "t": "26881"}]},
  "layer": [
    {
      "mark": {"type": "rect", "color": "#7d7d7d", "yOffset": -3.5, "y2Offset": 3.5},
      "encoding": {
        "x": {"datum": 469.48}, "x2": {"datum": 477.86},
        "y": {"field": "p", "type": "quantitative", "title": null},
        "y2": {"field": "p"}
      }
    },
    {
      "mark": {"type": "text", "align": "left", "baseline": "middle", "fontSize": 6, "color": "#ffffff", "font": "Liberation Sans"},
      "encoding": {
        "x": {"datum": 470.1},
        "y": {"field": "p", "type": "quantitative", "title": null},
        "text": {"field": "t"}
      }
    }
  ]
},
{
  "data": {"values": [{"t": "JP225Cash,Daily  26911 27216 26781 26881", "p": 30884}]},
  "layer": [
    {
      "mark": {"type": "point", "shape": "triangle-down", "filled": true, "color": "#000000", "size": 9, "opacity": 1},
      "encoding": {
        "x": {"datum": 2.34},
        "y": {"field": "p", "type": "quantitative", "title": null}
      }
    },
    {
      "mark": {"type": "text", "align": "left", "baseline": "middle", "fontSize": 6, "color": "#000000", "font": "Liberation Sans"},
      "encoding": {
        "x": {"datum": 4.87},
        "y": {"field": "p", "type": "quantitative", "title": null},
        "text": {"field": "t"}
      }
    }
  ]
}
]
}
